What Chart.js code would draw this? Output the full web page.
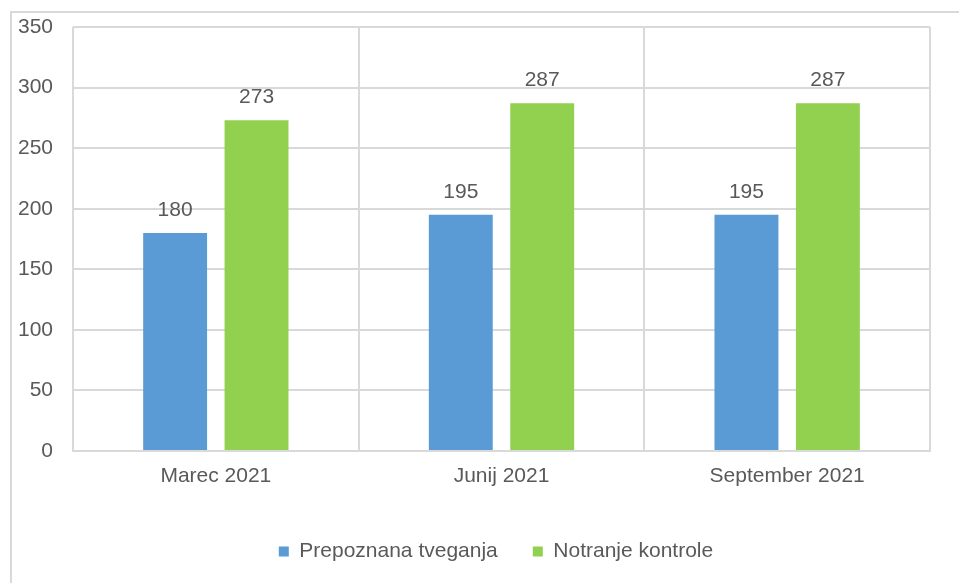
<!DOCTYPE html>
<html>
<head>
<meta charset="utf-8">
<script src="https://cdn.jsdelivr.net/npm/chart.js@4.4.0/dist/chart.umd.min.js"></script>
<style>
  body { margin: 0; background: #fff; overflow: hidden; }
  #frame {
    position: absolute; left: 10px; top: 11px; width: 1000px; height: 700px;
    border-left: 2px solid #d9d9d9; border-top: 2px solid #d9d9d9;
  }
  #wrap { position: absolute; left: 0; top: 0; width: 959px; height: 583px; }
</style>
</head>
<body>
<div id="frame"></div>
<div id="wrap"><canvas id="myChart" width="959" height="583"></canvas></div>
<script>
const categories = ["Marec 2021", "Junij 2021", "September 2021"];
const seriesNames = ["Prepoznana tveganja", "Notranje kontrole"];
const risks = [180, 195, 195];
const controls = [273, 287, 287];
const yTicks = [0, 50, 100, 150, 200, 250, 300, 350];

const textColor = '#595959';
const gridColor = '#d9d9d9';

Chart.defaults.font.family = "'Liberation Sans', Arial, sans-serif";
Chart.defaults.font.size = 21;
Chart.defaults.color = textColor;

// values above the bars
const barLabels = {
  id: 'barLabels',
  afterDatasetsDraw(chart) {
    const ctx = chart.ctx;
    ctx.save();
    ctx.font = "21px 'Liberation Sans', Arial, sans-serif";
    ctx.fillStyle = textColor;
    ctx.textAlign = 'center';
    ctx.textBaseline = 'middle';
    chart.data.datasets.forEach((ds, i) => {
      chart.getDatasetMeta(i).data.forEach((bar, j) => {
        ctx.fillText(String(ds.data[j]), bar.x, bar.y - 23);
      });
    });
    ctx.restore();
  }
};

// the legend in the original sits a bit right of the plot centre
const legendShift = {
  id: 'legendShift',
  afterLayout(chart) {
    chart.legend.left += 25;
    chart.legend.right += 25;
  }
};

const canvas = document.getElementById("myChart");
const chart = new Chart(canvas.getContext("2d"), {
  type: "bar",
  data: {
    labels: categories,
    datasets: [
      {
        label: seriesNames[0],
        data: risks,
        backgroundColor: "#5b9bd5",
        categoryPercentage: 0.57,
        barPercentage: 0.785,
      },
      {
        label: seriesNames[1],
        data: controls,
        backgroundColor: "#92d050",
        categoryPercentage: 0.57,
        barPercentage: 0.785,
      },
    ],
  },
  options: {
    responsive: false,
    animation: false,
    devicePixelRatio: 1,
    layout: { padding: { left: 12, right: 29, top: 27, bottom: 17 } },
    scales: {
      x: {
        grid: { color: gridColor, lineWidth: 2, drawTicks: false, offset: true },
        border: { color: gridColor, width: 2 },
        ticks: { padding: 13, color: textColor },
        afterFit: function (scale) { scale.height = 55; },
      },
      y: {
        min: 0,
        max: 350,
        grid: { color: gridColor, lineWidth: 2, drawTicks: false },
        border: { display: false },
        afterBuildTicks: function (scale) {
          scale.ticks = yTicks.map(v => ({ value: v }));
        },
        ticks: { padding: 20, color: textColor },
        afterFit: function (scale) {
          scale.width = 61;
          // tick padding would otherwise push the plot down
          scale.paddingTop = 0;
          scale.paddingBottom = 0;
        },
      },
    },
    plugins: {
      tooltip: { enabled: false },
      legend: {
        position: 'bottom',
        maxHeight: 60,
        labels: {
          color: textColor,
          boxWidth: 10,
          boxHeight: 10,
          padding: 35,
        },
      },
    },
  },
  plugins: [barLabels, legendShift],
});
</script>
</body>
</html>
